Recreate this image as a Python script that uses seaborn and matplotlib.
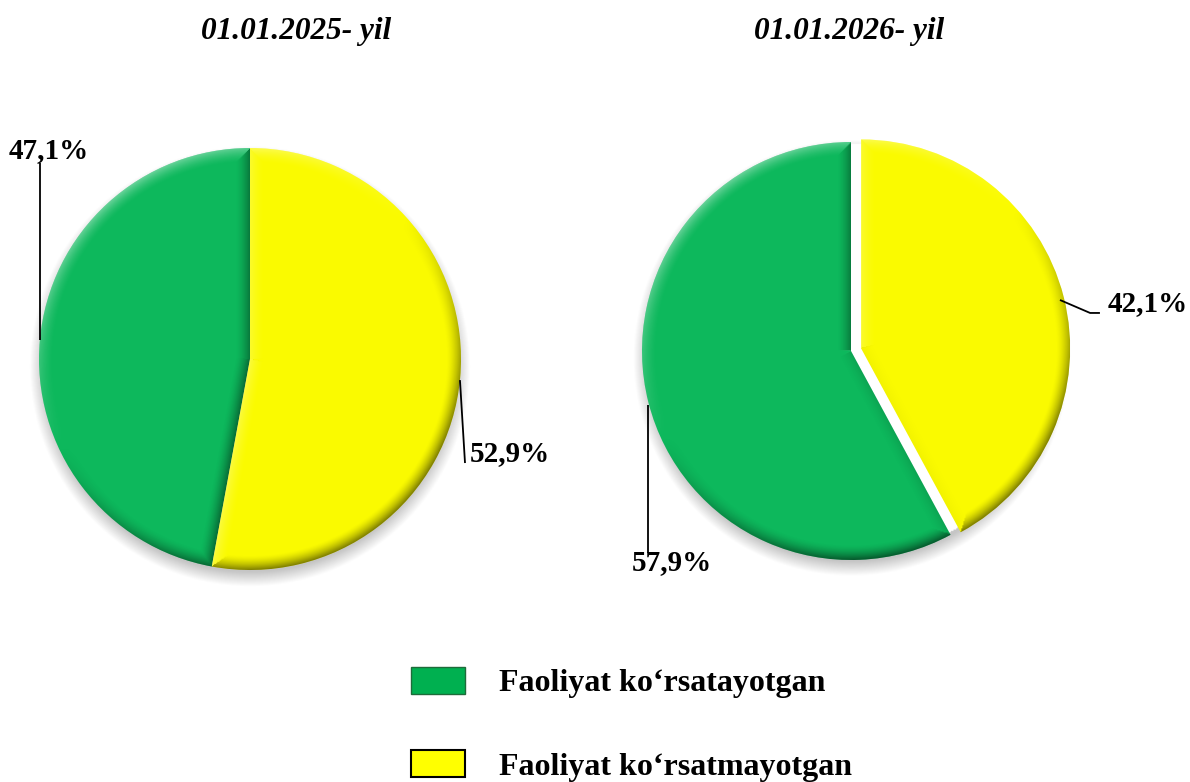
import numpy as np
import matplotlib
matplotlib.use("Agg")
import matplotlib.pyplot as plt
from matplotlib.patches import Patch
import seaborn as sns

# ---------------- data ----------------
categories = ["Faoliyat ko‘rsatayotgan", "Faoliyat ko‘rsatmayotgan"]
titles = ["01.01.2025- yil", "01.01.2026- yil"]
values_2025 = [47.1, 52.9]
values_2026 = [57.9, 42.1]
labels_2025 = ["47,1%", "52,9%"]
labels_2026 = ["57,9%", "42,1%"]

sns.set_theme(style="white")
plt.rcParams["font.family"] = ["Liberation Serif", "DejaVu Serif"]
plt.rcParams["text.color"] = "black"

GREEN = "#0DB85C"
YELLOW = "#FAFA00"
LEG_GREEN = "#00B050"

W, H = 1190, 782
fig = plt.figure(figsize=(W / 100, H / 100), dpi=100)
fig.patch.set_facecolor("white")

LIM = 1.25


def make_axes(cx, cy, r):
    w = 2 * LIM * r
    ax = fig.add_axes([(cx - LIM * r) / W, (H - cy - LIM * r) / H, w / W, w / H])
    return ax


def shade_wedge(ax, wedge):
    n = 500
    xs = np.linspace(-LIM, LIM, n)
    X, Y = np.meshgrid(xs, xs)
    cx, cy = wedge.center
    px, py = X - cx, Y - cy
    rr = np.hypot(px, py) + 1e-9
    R = wedge.r
    bw = 0.07
    s_rim = np.clip(1 - (R - rr) / bw, 0, 1)
    S = s_rim.copy()
    NX, NY = px / rr, py / rr
    for ang, sign in ((wedge.theta1, -1), (wedge.theta2, 1)):
        a = np.deg2rad(ang)
        ux, uy = np.cos(a), np.sin(a)
        na = a + sign * np.pi / 2
        nnx, nny = np.cos(na), np.sin(na)
        t = px * ux + py * uy
        d = np.abs(px * nnx + py * nny)
        s = np.clip(1 - d / bw, 0, 1) * (t > 0)
        m = s > S
        S = np.where(m, s, S)
        NX = np.where(m, nnx, NX)
        NY = np.where(m, nny, NY)
    L = np.array([-0.55, 0.83])
    L = L / np.linalg.norm(L)
    dot = NX * L[0] + NY * L[1] - 0.15
    strength = S ** 1.6
    rgba = np.zeros((n, n, 4))
    light = dot > 0
    rgba[..., 0:3] = np.where(light[..., None], 1.0, 0.0)
    rgba[..., 3] = strength * np.where(light, 0.45 * dot, 0.5 * np.minimum(-dot, 1))
    im = ax.imshow(rgba, extent=(-LIM, LIM, -LIM, LIM), origin="lower",
                   interpolation="bilinear", zorder=3)
    im.set_clip_path(wedge)


def shadow(ax):
    n = 400
    xs = np.linspace(-LIM, LIM, n)
    X, Y = np.meshgrid(xs, xs)
    rr = np.hypot(X, Y + 0.035)
    r0 = np.hypot(X, Y)
    a = 0.35 * np.clip((1.045 - rr) / 0.07, 0, 1) * (r0 > 0.99)
    rgba = np.zeros((n, n, 4))
    rgba[..., 0:3] = 0.35
    rgba[..., 3] = a
    ax.imshow(rgba, extent=(-LIM, LIM, -LIM, LIM), origin="lower",
              interpolation="bilinear", zorder=1)


def draw_pie(ax, values, explode):
    shadow(ax)
    wedges, _ = ax.pie(values, colors=[GREEN, YELLOW], startangle=90,
                       counterclock=True, radius=1, explode=explode,
                       wedgeprops=dict(linewidth=0), frame=False)
    for w in wedges:
        w.set_zorder(2)
        shade_wedge(ax, w)
    ax.set_xlim(-LIM, LIM)
    ax.set_ylim(-LIM, LIM)
    ax.set_aspect("equal")
    ax.axis("off")
    return wedges


LBL = dict(fontsize=21, fontweight="bold", color="black", zorder=5, clip_on=False)
LN = dict(color="black", lw=1.3, zorder=5, clip_on=False, solid_capstyle="butt")

# left pie
ax1 = make_axes(250, 359, 211)
draw_pie(ax1, values_2025, [0, 0])
ax1.plot([-0.995, -0.995], [0.09, 0.93], **LN)
ax1.text(-0.953, 0.99, labels_2025[0], ha="center", va="center", **LBL)
ax1.plot([0.995, 1.019], [-0.10, -0.493], **LN)
ax1.text(1.043, -0.45, labels_2025[1], ha="left", va="center", **LBL)

# right pie
ax2 = make_axes(851, 351, 209)
draw_pie(ax2, values_2026, [0, 0.05])
ax2.plot([-0.971, -0.971], [-0.258, -0.967], **LN)
ax2.text(-0.856, -1.01, labels_2026[0], ha="center", va="center", **LBL)
ax2.plot([1.0, 1.144, 1.191], [0.244, 0.182, 0.182], **LN)
ax2.text(1.23, 0.225, labels_2026[1], ha="left", va="center", **LBL)

# titles
fig.text(296 / W, 1 - 32 / H, titles[0], ha="center", va="center",
         fontsize=22.5, fontweight="bold", fontstyle="italic", color="black")
fig.text(849 / W, 1 - 32 / H, titles[1], ha="center", va="center",
         fontsize=22.5, fontweight="bold", fontstyle="italic", color="black")

# legend
handles = [Patch(facecolor=LEG_GREEN, edgecolor="#1E6B3A", linewidth=1.0),
           Patch(facecolor="#FFFF00", edgecolor="black", linewidth=1.5)]
FS = 23
px_em = FS * 100 / 72
leg = fig.legend(handles, categories, loc="upper left",
                 bbox_to_anchor=(411 / W, 1 - 667 / H), frameon=False,
                 prop=dict(size=FS, weight="bold"),
                 handlelength=54 / px_em, handleheight=29 / px_em,
                 handletextpad=34 / px_em,
                 labelspacing=(84 - 32) / px_em, borderpad=0, borderaxespad=0)
for t in leg.get_texts():
    t.set_color("black")

fig.savefig("out.png", dpi=100, facecolor="white")
